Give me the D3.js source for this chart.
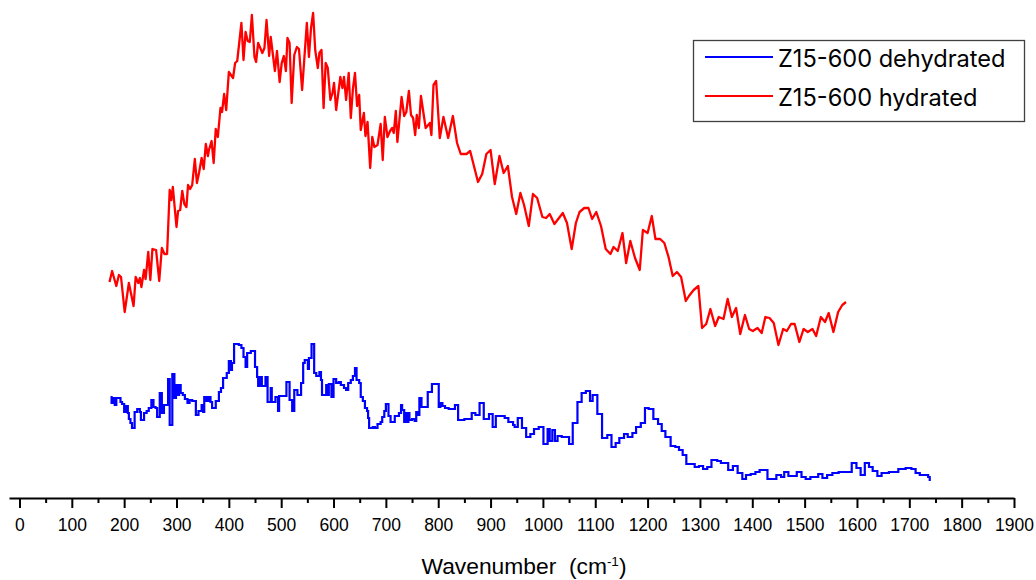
<!DOCTYPE html>
<html>
<head>
<meta charset="utf-8">
<script src="https://cdn.jsdelivr.net/npm/d3@7"></script>
<style>
  html, body { margin: 0; padding: 0; background: #ffffff; }
  svg { display: block; }
</style>
</head>
<body>
<svg id="chart" width="1036" height="580"></svg>
<script>
// Raman spectra of Z15-600 (arbitrary intensity units, curves offset vertically)

// Hydrated sample: wavenumber (cm-1) and intensity
const hydratedWn = [172,177,185,190,194,201,209,218,222,227,230,233,238,241,246,250,254,261,267,272,277,282,287,290,293,300,303,307,311,315,319,322,326,330,335,339,343,348,352,356,360,362,367,371,375,379,384,387,391,395,400,408,412,416,424,428,432,436,440,444,449,452,456,464,468,472,477,480,488,492,497,501,505,509,512,516,520,525,530,534,540,549,553,557,561,565,570,573,577,581,585,589,594,598,601,605,613,617,620,624,629,633,637,641,645,649,652,658,661,665,670,674,678,684,690,694,698,703,708,712,715,719,722,730,735,739,744,748,752,756,759,763,767,776,784,787,791,796,803,810,819,828,836,843,854,861,876,884,892,900,908,917,925,933,941,949,957,964,973,981,989,999,1006,1013,1022,1038,1046,1055,1063,1070,1079,1087,1094,1102,1111,1120,1129,1135,1143,1152,1159,1167,1176,1185,1191,1200,1208,1215,1224,1232,1240,1248,1256,1264,1273,1279,1288,1297,1304,1312,1320,1329,1336,1345,1353,1361,1369,1377,1386,1394,1401,1410,1418,1425,1433,1441,1450,1459,1466,1474,1481,1490,1498,1506,1515,1522,1531,1539,1546,1555,1564,1572,1579];
const hydratedVal = [215,226,211,222,220,185,214,191,220,214,219,210,227,218,245,217,248,247,216,249,243,243,307,297,310,270,286,287,306,293,290,312,308,312,338,314,324,339,328,353,341,347,356,334,368,360,389,385,403,387,425,419,434,436,474,437,465,456,455,482,440,435,454,444,449,477,441,460,426,446,415,434,441,426,459,454,394,442,450,448,407,474,440,469,484,447,429,444,447,389,434,429,397,404,414,387,420,409,420,397,424,379,408,424,391,402,367,384,361,375,329,360,350,352,373,337,380,360,366,369,364,386,355,400,381,385,406,382,379,362,382,369,401,369,374,362,412,416,359,380,359,381,354,343,343,346,315,323,343,347,313,341,324,331,300,283,304,292,271,303,299,280,279,283,273,284,274,248,274,285,289,289,278,285,271,248,243,250,246,264,234,256,239,227,267,264,281,258,258,254,240,221,225,220,196,201,207,211,169,173,188,171,180,178,198,180,189,163,182,168,166,169,164,180,179,174,152,168,166,173,173,155,168,165,168,161,180,175,184,165,185,192,195];

// Dehydrated sample: wavenumber (cm-1) at each step and intensity
const dehydratedWn = [174,176,179,182,185,193,196,200,204,207,209,212,215,220,225,230,232,238,243,247,252,256,260,263,268,272,276,284,287,292,296,299,302,305,308,312,316,321,325,330,337,342,348,351,353,357,361,365,368,375,381,385,389,396,400,404,406,410,419,424,428,432,435,442,450,454,456,460,463,470,474,480,482,489,494,496,510,516,521,525,531,538,542,545,551,553,558,563,567,573,576,578,586,589,591,596,600,605,610,614,620,624,628,633,637,641,644,649,652,656,660,664,666,668,675,679,684,690,693,697,700,705,709,717,725,729,731,735,738,740,743,745,750,755,758,762,764,768,780,788,801,804,808,813,820,832,838,850,864,871,879,887,897,904,910,927,934,943,946,952,960,968,976,983,992,1001,1009,1013,1018,1023,1028,1036,1050,1057,1066,1074,1082,1090,1095,1104,1113,1123,1131,1139,1146,1155,1162,1171,1178,1187,1195,1202,1211,1220,1227,1234,1244,1253,1260,1267,1274,1290,1298,1306,1314,1322,1333,1340,1354,1363,1372,1381,1388,1397,1406,1414,1429,1446,1455,1461,1469,1485,1494,1502,1511,1526,1534,1543,1553,1565,1590,1599,1607,1615,1623,1630,1639,1647,1661,1679,1693,1704,1712,1720,1736,1739];
const dehydratedVal = [100,94,99,92,99,95,93,85,91,84,78,74,69,85,88,85,77,84,86,89,97,90,89,80,104,84,92,118,72,123,99,112,102,112,104,102,98,94,97,96,82,86,92,85,100,96,100,95,89,96,105,109,119,124,136,127,134,153,152,149,140,130,144,146,130,120,111,120,111,120,95,109,95,100,86,101,115,97,86,107,102,114,134,137,128,139,153,124,121,125,117,102,112,102,113,100,118,114,115,112,109,107,114,117,121,129,117,114,100,96,89,86,79,69,70,69,73,75,80,86,93,81,75,81,84,92,87,75,84,75,84,77,78,76,85,82,99,90,105,113,90,94,91,89,88,92,77,78,84,82,94,78,83,70,81,79,75,72,70,79,69,60,63,68,70,53,68,56,67,56,61,60,53,74,95,104,106,96,102,83,59,62,50,54,59,63,60,64,70,74,89,88,78,73,66,60,51,50,47,42,33,30,31,28,30,37,36,34,27,31,24,18,22,23,25,27,18,22,20,25,21,25,20,18,20,23,19,22,24,25,34,29,22,34,30,26,21,24,25,28,29,28,24,22,20,16];

// Axis tick values and legend entries
const majorTicks = [0,100,200,300,400,500,600,700,800,900,1000,1100,1200,1300,1400,1500,1600,1700,1800,1900];
const minorTicks = [50,150,250,350,450,550,650,750,850,950,1050,1150,1250,1350,1450,1550,1650,1750,1850];
const seriesNames = ["Z15-600 dehydrated", "Z15-600 hydrated"];
const seriesColors = ["#0000ff", "#ff0000"];

const svg = d3.select("#chart");

const x = d3.scaleLinear().domain([-20, 1900]).range([9, 1014]);
const y = d3.scaleLinear().domain([0, 490]).range([497, 7]);

const hydrated = hydratedWn.map((w, i) => ({ w, v: hydratedVal[i] }));
const dehydrated = dehydratedWn.map((w, i) => ({ w, v: dehydratedVal[i] }));

// Spectra
svg.append("path")
  .datum(dehydrated)
  .attr("fill", "none")
  .attr("stroke", seriesColors[0])
  .attr("stroke-width", 2.2)
  .attr("d", d3.line().x(d => x(d.w)).y(d => y(d.v)).curve(d3.curveStepAfter));

svg.append("path")
  .datum(hydrated)
  .attr("fill", "none")
  .attr("stroke", seriesColors[1])
  .attr("stroke-width", 2.3)
  .attr("stroke-linejoin", "round")
  .attr("d", d3.line().x(d => x(d.w)).y(d => y(d.v)));

// Bottom axis: minor ticks first, then major ticks with labels
const axisY = 498;
const minorAxis = svg.append("g")
  .attr("transform", `translate(0,${axisY})`)
  .call(d3.axisBottom(x).tickValues(minorTicks).tickSize(5).tickSizeOuter(0).tickFormat(""));
minorAxis.select(".domain").remove();
minorAxis.selectAll(".tick line").attr("stroke", "#000").attr("stroke-width", 2);

const majorAxis = svg.append("g")
  .attr("transform", `translate(0,${axisY})`)
  .call(d3.axisBottom(x).tickValues(majorTicks).tickSize(10).tickSizeOuter(0).tickPadding(11).tickFormat(d3.format("d")));
majorAxis.select(".domain").attr("stroke", "#000").attr("stroke-width", 2);
majorAxis.selectAll(".tick line").attr("stroke", "#000").attr("stroke-width", 2);
majorAxis.selectAll(".tick text")
  .attr("fill", "#000")
  .style("font-family", "'Liberation Sans', Arial, sans-serif")
  .style("font-size", "17.5px");

// Axis title
const title = svg.append("text")
  .attr("x", 524)
  .attr("y", 574)
  .attr("text-anchor", "middle")
  .style("font-family", "'Liberation Sans', Arial, sans-serif")
  .style("font-size", "22.8px")
  .style("white-space", "pre")
  .attr("fill", "#000");
title.append("tspan").text("Wavenumber  (cm");
title.append("tspan").attr("dy", -8).style("font-size", "13.5px").text("-1");
title.append("tspan").attr("dy", 8).text(")");

// Legend
const legend = svg.append("g");
legend.append("rect")
  .attr("x", 693.5).attr("y", 40.5)
  .attr("width", 331).attr("height", 81)
  .attr("fill", "#fff")
  .attr("stroke", "#404040")
  .attr("stroke-width", 1.3);

const rows = [57, 96];
seriesNames.forEach((name, i) => {
  legend.append("line")
    .attr("x1", 705).attr("x2", 773)
    .attr("y1", rows[i]).attr("y2", rows[i])
    .attr("stroke", seriesColors[i])
    .attr("stroke-width", 2.2);
  legend.append("text")
    .attr("x", 778)
    .attr("y", rows[i] + 9.5)
    .style("font-family", "Inter, 'Open Sans', sans-serif")
    .style("font-size", "23.6px")
    .attr("fill", "#000")
    .text(name);
});
</script>
</body>
</html>
